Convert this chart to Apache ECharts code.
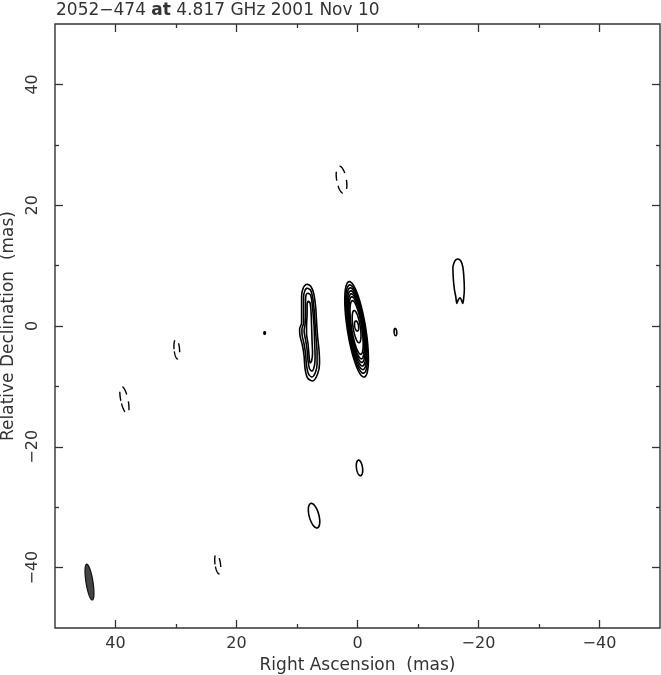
<!DOCTYPE html>
<html><head><meta charset="utf-8">
<script src="https://cdn.jsdelivr.net/npm/echarts@6/dist/echarts.min.js"></script>
<style>html,body{margin:0;padding:0;background:#fff}#c{width:661px;height:675px}</style>
</head><body><div id="c"></div>
<script>
// ---- tick values (mas) ----
const xMajorTicks = [-40, -20, 0, 20, 40];
const xMinorTicks = [-30, -10, 10, 30];
const yMajorTicks = [-40, -20, 0, 20, 40];
const yMinorTicks = [-30, -10, 10, 30];

// ---- elliptical contours: [RA, Dec, semiMajor, semiMinor, tiltDeg] (mas) ----
const coreContours = [
  [0.15, -0.55, 8.0, 1.52, 9],
  [0.15, -0.50, 7.4, 1.40, 9],
  [0.15, -0.45, 6.85, 1.28, 9],
  [0.15, -0.40, 6.3, 1.17, 9],
  [0.15, -0.35, 5.75, 1.06, 9],
  [0.15, -0.30, 5.2, 0.96, 9],
  [0.15, -0.25, 4.5, 0.84, 9],
  [0.15, -0.10, 2.7, 0.60, 9],
  [0.15, 0.00, 0.85, 0.32, 9]
];
const smallPositiveContours = [
  [15.35, -1.16, 0.22, 0.12, 0],
  [-6.27, -1.00, 0.60, 0.22, 5],
  [-0.33, -23.5, 1.30, 0.50, 8],
  [7.18, -31.4, 2.10, 0.80, 15]
];
const negativeContours = [
  [2.64, 24.2, 2.30, 0.80, 10],
  [29.87, -3.81, 1.65, 0.45, 5],
  [38.53, -12.25, 2.30, 0.60, 12],
  [23.10, -39.40, 1.65, 0.45, 8]
];
const beam = [[44.3, -42.4, 3.0, 0.58, 9]];

// ---- irregular contours: vertex lists [RA, Dec] (mas) ----
const secondComponent = [
  [[8.42,6.95],[7.76,6.62],[7.26,5.46],[6.93,3.31],[6.77,0.83],[6.60,-1.66],[6.35,-4.14],[6.27,-6.13],[6.60,-7.95],[7.43,-9.11],[8.25,-8.61],[8.66,-7.12],[8.83,-4.97],[9.08,-3.31],[9.49,-1.66],[9.57,-0.50],[9.24,0.50],[9.24,2.48],[9.24,4.97],[8.91,6.46],[8.42,6.95]],
  [[8.33,6.29],[7.76,5.96],[7.43,4.80],[7.18,2.81],[7.01,0.50],[6.85,-1.99],[6.68,-4.47],[6.68,-6.29],[6.93,-7.62],[7.51,-8.44],[8.09,-7.95],[8.42,-6.62],[8.58,-4.64],[8.83,-2.98],[9.16,-1.49],[9.19,-0.50],[8.91,0.50],[8.91,2.81],[8.91,4.80],[8.66,5.96],[8.33,6.29]],
  [[8.25,5.46],[7.76,5.13],[7.51,3.81],[7.34,1.99],[7.18,0.00],[7.10,-2.48],[7.01,-4.97],[7.10,-6.46],[7.51,-7.45],[7.92,-7.12],[8.17,-5.79],[8.33,-3.97],[8.58,-2.32],[8.83,-0.83],[8.66,0.33],[8.58,2.48],[8.58,4.30],[8.50,5.13],[8.25,5.46]],
  [[8.17,4.14],[7.84,3.81],[7.67,2.15],[7.59,0.00],[7.51,-2.48],[7.43,-4.47],[7.59,-5.79],[7.84,-6.13],[8.00,-4.97],[8.17,-2.98],[8.42,-1.32],[8.42,0.00],[8.33,2.15],[8.33,3.64],[8.17,4.14]]
];
const jetContour = [[-15.76,9.77],[-16.09,10.76],[-16.58,11.09],[-17.08,10.76],[-17.41,9.77],[-17.57,8.28],[-17.66,6.10],[-17.57,4.80],[-17.41,3.75],[-17.16,4.35],[-16.95,4.65],[-16.67,4.35],[-16.42,3.75],[-16.25,4.80],[-16.01,6.10],[-15.84,7.78],[-15.76,9.77]];

const FONT = 'DejaVu Sans';
const TXT = '#333';
const fmt = v => (v < 0 ? '\u2212' + Math.abs(v) : String(v));

function ellipseRenderer(style) {
  return function (params, api) {
    const cx = api.value(0), cy = api.value(1), a = api.value(2), b = api.value(3);
    const t = api.value(4) * Math.PI / 180;
    const pts = [];
    for (let i = 0; i < 72; i++) {
      const u = i / 72 * 2 * Math.PI;
      const ex = b * Math.cos(u), ey = a * Math.sin(u);
      pts.push(api.coord([cx + ex * Math.cos(t) + ey * Math.sin(t), cy - ex * Math.sin(t) + ey * Math.cos(t)]));
    }
    return { type: 'polygon', shape: { points: pts }, style: Object.assign({}, style) };
  };
}

function ellipseSeries(data, style) {
  return { type: 'custom', silent: true, renderItem: ellipseRenderer(style), encode: { x: 0, y: 1 }, data: data, z: 3 };
}

function lineSeries(data) {
  return { type: 'line', silent: true, data: data, showSymbol: false, symbol: 'none', smooth: 0.3,
    lineStyle: { color: '#000', width: 1.6 }, z: 3, animation: false };
}

function xAx(pos, ticks, len, labels) {
  return { type: 'value', position: pos, min: -50, max: 50, inverse: true,
    axisLine: { show: false, onZero: false }, splitLine: { show: false },
    axisTick: { show: true, inside: true, length: len, customValues: ticks, lineStyle: { color: TXT, width: 1.3 } },
    axisLabel: labels ? { show: true, customValues: ticks, formatter: fmt, color: TXT, fontFamily: FONT, fontSize: 16, margin: 8 } : { show: false },
    name: labels ? 'Right Ascension  (mas)' : '', nameLocation: 'middle', nameGap: 27,
    nameTextStyle: { color: TXT, fontFamily: FONT, fontSize: 17 } };
}
function yAx(pos, ticks, len, labels) {
  return { type: 'value', position: pos, min: -50, max: 50,
    axisLine: { show: false, onZero: false }, splitLine: { show: false },
    axisTick: { show: true, inside: true, length: len, customValues: ticks, lineStyle: { color: TXT, width: 1.3 } },
    axisLabel: labels ? { show: true, customValues: ticks, formatter: fmt, rotate: 90, color: TXT, fontFamily: FONT, fontSize: 16, margin: 14 } : { show: false },
    name: labels ? 'Relative Declination  (mas)' : '', nameLocation: 'middle', nameGap: 35,
    nameTextStyle: { color: TXT, fontFamily: FONT, fontSize: 17 } };
}

const series = [];
series.push(ellipseSeries(coreContours, { fill: 'none', stroke: '#000', lineWidth: 1.6 }));
series.push(ellipseSeries(smallPositiveContours, { fill: 'none', stroke: '#000', lineWidth: 1.6 }));
series.push(ellipseSeries(negativeContours, { fill: 'none', stroke: '#000', lineWidth: 1.4, lineDash: [9, 7] }));
series.push(ellipseSeries(beam, { fill: '#444', stroke: '#111', lineWidth: 1.2 }));
secondComponent.forEach(c => series.push(lineSeries(c)));
series.push(lineSeries(jetContour));

const chart = echarts.init(document.getElementById('c'), null, { renderer: 'canvas' });
chart.setOption({
  animation: false,
  backgroundColor: '#fff',
  title: {
    text: '{n|2052\u2212474 }{b|at}{n| 4.817 GHz 2001 Nov 10}',
    left: 51, top: -3,
    textStyle: { fontWeight: 'normal', fontFamily: FONT, fontSize: 17, color: TXT, rich: {
      n: { fontFamily: FONT, fontSize: 17, fontWeight: 'normal', color: TXT },
      b: { fontFamily: FONT, fontSize: 17, fontWeight: 'bold', color: TXT }
    } }
  },
  grid: { left: 55, right: 1, top: 24, bottom: 47, outerBoundsMode: 'none', containLabel: false,
    show: true, borderColor: TXT, borderWidth: 1.4, backgroundColor: 'transparent' },
  xAxis: [xAx('bottom', xMajorTicks, 8, true), xAx('bottom', xMinorTicks, 4, false), xAx('top', xMajorTicks, 8, false), xAx('top', xMinorTicks, 4, false)],
  yAxis: [yAx('left', yMajorTicks, 8, true), yAx('left', yMinorTicks, 4, false), yAx('right', yMajorTicks, 8, false), yAx('right', yMinorTicks, 4, false)],
  series: series
});
</script></body></html>
